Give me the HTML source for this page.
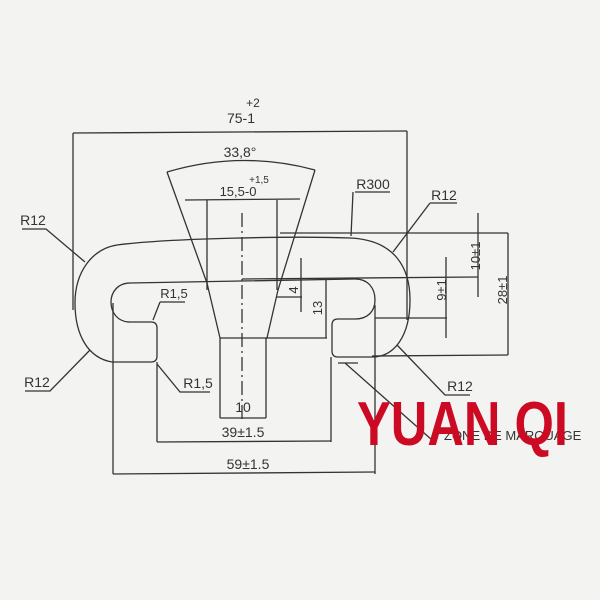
<!DOCTYPE html>
<html><head><style>
html,body{margin:0;padding:0;background:#f3f3f1;}
svg{display:block;}
text{font-family:"Liberation Sans",sans-serif;fill:#333;}
</style></head><body>
<svg width="600" height="600" viewBox="0 0 600 600" xmlns="http://www.w3.org/2000/svg">
<rect width="600" height="600" fill="#f3f3f1"/>
<g stroke="#333" stroke-width="1.3" fill="none">
<line x1="73" y1="133" x2="407" y2="131"/>
<line x1="73" y1="133" x2="73" y2="310"/>
<line x1="407" y1="131" x2="407" y2="320"/>
<path d="M117 245 C170 238 300 236 350 238 C395 240 410 268 410 300 C410 335 395 357 372 357 L338 357 Q332 357 332 351 L332 325 Q332 319 338 319 L355 319 C368 319 375 311 375 300 C375 288 368 279 355 279 L130 283 C118 283 111 292 111 302 C111 313 118 322 130 322 L151 322 Q157 322 157 328 L157 356 Q157 362 151 362 L112 362 C88 358 75 335 75 303 C75 272 92 249 117 245 Z"/>
<path d="M167 172 Q241 150 315 170"/>
<path d="M167 172 L207 283 L220 338 L267 338 L278 290 L315 170"/>
<line x1="207" y1="200" x2="207" y2="290"/>
<line x1="277" y1="200" x2="277" y2="290"/>
<line x1="185" y1="200" x2="300" y2="199"/>
<line x1="220" y1="338" x2="220" y2="418"/>
<line x1="266" y1="338" x2="266" y2="418"/>
<line x1="220" y1="418" x2="266" y2="418"/>
<line x1="266" y1="338" x2="327" y2="338"/>
<line x1="242" y1="213" x2="242" y2="420" stroke-dasharray="14 4 2 4"/>
<line x1="280" y1="233" x2="508" y2="233"/>
<line x1="242" y1="279" x2="478" y2="277"/>
<line x1="375" y1="318" x2="447" y2="318"/>
<line x1="372" y1="356" x2="508" y2="355"/>
<line x1="478" y1="213" x2="478" y2="297"/>
<line x1="446" y1="257" x2="446" y2="338"/>
<line x1="508" y1="233" x2="508" y2="355"/>
<line x1="326" y1="280" x2="326" y2="338"/>
<line x1="301" y1="258" x2="301" y2="312"/>
<line x1="277" y1="297" x2="302" y2="297"/>
<line x1="113" y1="303" x2="113" y2="474"/>
<line x1="157" y1="362" x2="157" y2="442"/>
<line x1="331" y1="357" x2="331" y2="442"/>
<line x1="375" y1="305" x2="375" y2="474"/>
<line x1="157" y1="442" x2="331" y2="441"/>
<line x1="113" y1="474" x2="375" y2="472"/>
<path d="M22 229 L46 229 L85 262"/>
<path d="M25 391 L50 391 L90 350"/>
<path d="M157 364 L180 392 L210 392"/>
<path d="M355 192 L390 192 M353 192 L351 236"/>
<path d="M430 203 L457 203 M430 203 L393 252"/>
<path d="M397 345 L445 395 L470 395"/>
<path d="M338 363 L358 363 M345 363 L432 440"/>
<path d="M185 302 L160 302 M160 302 L153 320"/>
</g>
<g font-size="15">
<text x="241" y="123" text-anchor="middle" font-size="14">75-1</text>
<text x="253" y="107" text-anchor="middle" font-size="12">+2</text>
<text x="240" y="157" text-anchor="middle" font-size="14">33,8°</text>
<text x="238" y="196" text-anchor="middle" font-size="13">15,5-0</text>
<text x="259" y="183" text-anchor="middle" font-size="10">+1,5</text>
<text x="373" y="189" text-anchor="middle" font-size="14">R300</text>
<text x="444" y="200" text-anchor="middle" font-size="14">R12</text>
<text x="33" y="225" text-anchor="middle" font-size="14">R12</text>
<text x="174" y="298" text-anchor="middle" font-size="13">R1,5</text>
<text x="37" y="387" text-anchor="middle" font-size="14">R12</text>
<text x="198" y="388" text-anchor="middle" font-size="14">R1,5</text>
<text x="460" y="391" text-anchor="middle" font-size="14">R12</text>
<text x="243" y="412" text-anchor="middle" font-size="14">10</text>
<text x="243" y="437" text-anchor="middle" font-size="14">39±1.5</text>
<text x="248" y="469" text-anchor="middle" font-size="14">59±1.5</text>
<text x="444" y="440" font-size="13" fill="#555">ZONE DE MARQUAGE</text>
<text transform="translate(480,256) rotate(-90)" text-anchor="middle" font-size="13">10±1</text>
<text transform="translate(446,290) rotate(-90)" text-anchor="middle" font-size="13">9±1</text>
<text transform="translate(507,290) rotate(-90)" text-anchor="middle" font-size="13">28±1</text>
<text transform="translate(322,308) rotate(-90)" text-anchor="middle" font-size="13">13</text>
<text transform="translate(298,290) rotate(-90)" text-anchor="middle" font-size="13">4</text>
</g>
<text x="357" y="445" font-size="62" font-weight="bold" textLength="211" lengthAdjust="spacingAndGlyphs" style="fill:#cc0a24;font-family:'Liberation Sans',sans-serif;">YUAN QI</text>
</svg>
</body></html>
